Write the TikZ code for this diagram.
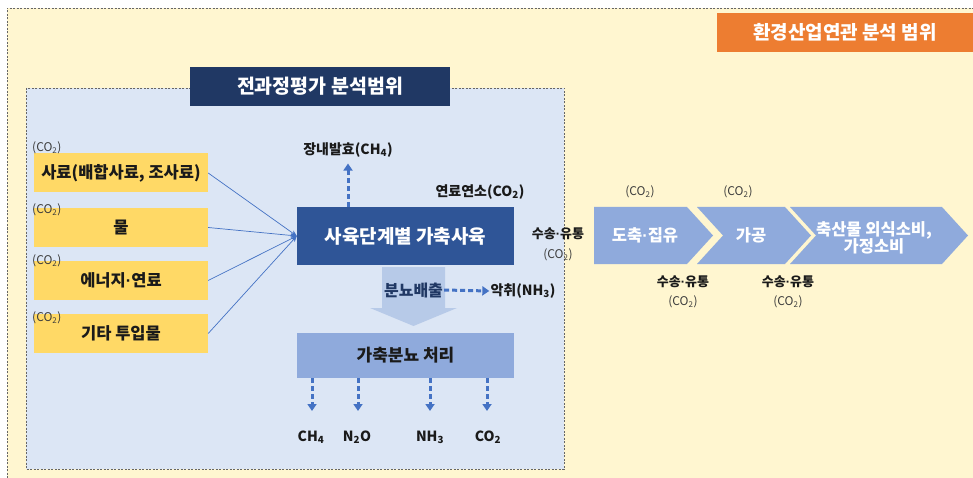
\documentclass[tikz,border=0pt]{standalone}
\usepackage{fontspec}
\setmainfont{Noto Sans CJK KR}
\newfontfamily\latinf{Liberation Sans}
\newcommand{\md}{{\latinf\bfseries ·}}
\usetikzlibrary{arrows.meta}
\definecolor{ybg}{HTML}{FFF6D0}
\definecolor{bbg}{HTML}{DCE6F5}
\definecolor{navy}{HTML}{203864}
\definecolor{mainblue}{HTML}{2F5597}
\definecolor{lightblue}{HTML}{8FAADC}
\definecolor{inyellow}{HTML}{FFD966}
\definecolor{orng}{HTML}{ED7D31}
\definecolor{arrblue}{HTML}{4472C4}
\definecolor{bigarr}{HTML}{B4C7E7}
\definecolor{txt}{HTML}{1A1A1A}
\begin{document}
\begin{tikzpicture}[x=1pt,y=-1pt,
  bdash/.style={draw=gray!80!black, line width=0.6pt, dash pattern=on 2pt off 1.5pt},
  inbox/.style={fill=inyellow, minimum width=174pt, minimum height=39pt, inner sep=0pt, text=txt, font=\fontsize{16.5}{19}\selectfont\bfseries},
  lbl/.style={font=\fontsize{14}{16}\selectfont\bfseries, text=txt, inner sep=1pt},
  tlbl/.style={font=\fontsize{13}{15}\selectfont\bfseries, text=txt, inner sep=1pt},
  co/.style={font=\fontsize{12}{14}\selectfont, text=txt!85, inner sep=1pt},
  inarrow/.style={draw=arrblue, line width=0.7pt, -{Stealth[length=6pt,width=5pt]}},
  dasharr/.style={draw=arrblue, line width=3pt, dash pattern=on 5pt off 3pt, -{Triangle[length=7pt,width=9pt]}},
  chev/.style={fill=lightblue},
  chevtxt/.style={text=white, font=\fontsize{16.5}{19}\selectfont\bfseries, align=center, inner sep=0pt}]
\useasboundingbox (0,0) rectangle (973,478);
\fill[white] (0,0) rectangle (973,478);
\fill[ybg] (7,8) rectangle (973,478);
\draw[bdash] (7,478) -- (7,8) -- (973,8);
\node[fill=orng, text=white, font=\fontsize{19}{22}\selectfont\bfseries, minimum width=256pt, minimum height=39pt, inner sep=0pt] (scope2) at (845,32.5) {환경산업연관 분석 범위};
% inner LCA scope
\draw[bdash, fill=bbg] (26,88) rectangle (564,469);
\node[fill=navy, text=white, font=\fontsize{19.5}{22}\selectfont\bfseries, minimum width=260pt, minimum height=39pt, inner sep=0pt] (title) at (320,86.5) {전과정평가 분석범위};
% inputs
\node[inbox] (in1) at (121,173) {사료(배합사료, 조사료)};
\node[inbox] (in2) at (121,227.5) {물};
\node[inbox] (in3) at (121,280.5) {에너지\md 연료};
\node[inbox] (in4) at (121,333.5) {기타 투입물};
\node[co, anchor=west] (co1) at (31,148) {(CO\textsubscript{2})};
\node[co, anchor=west] (co2) at (31,210) {(CO\textsubscript{2})};
\node[co, anchor=west] (co3) at (31,261) {(CO\textsubscript{2})};
\node[co, anchor=west] (co4) at (31,318) {(CO\textsubscript{2})};
% main
\node[fill=mainblue, text=white, font=\fontsize{19}{22}\selectfont\bfseries, minimum width=217pt, minimum height=58pt, inner sep=0pt] (main) at (405.5,236) {사육단계별 가축사육};
\foreach \i in {1,...,4} \draw[inarrow] (in\i.east) -- (main.west);
\node[lbl] (ent) at (348,150) {장내발효(CH\textsubscript{4})};
\draw[dasharr] (main.north -| ent) -- ([yshift=-5pt]ent.south);
\node[lbl] (fuel) at (480,192) {연료연소(CO\textsubscript{2})};
% big down arrow
\fill[bigarr, opacity=0.9] (382,267) -- (445,267) -- (445,308) -- (457,308) -- (413.5,326) -- (370,308) -- (382,308) -- cycle;
\node[font=\fontsize{16}{19}\selectfont\bfseries, text=navy, inner sep=1pt] (manure) at (413.5,290) {분뇨배출};
\node[lbl] (odor) at (523,291) {악취(NH\textsubscript{3})};
\draw[dasharr] (manure.east) -- (odor.west);
% manure treatment
\node[fill=lightblue, text=txt, font=\fontsize{17}{20}\selectfont\bfseries, minimum width=217pt, minimum height=45pt, inner sep=0pt] (proc) at (405.5,355.5) {가축분뇨 처리};
\node[lbl] (e1) at (311,437) {CH\textsubscript{4}};
\node[lbl] (e2) at (357,437) {N\textsubscript{2}O};
\node[lbl] (e3) at (430,437) {NH\textsubscript{3}};
\node[lbl] (e4) at (488,437) {CO\textsubscript{2}};
\draw[dasharr] (proc.south -| 312,0) -- (312,411);
\draw[dasharr] (proc.south -| 358,0) -- (358,411);
\draw[dasharr] (proc.south -| 430,0) -- (430,411);
\draw[dasharr] (proc.south -| 487,0) -- (487,411);
% chevrons
\fill[chev] (594,207) -- (687,207) -- (713,235.5) -- (687,264) -- (594,264) -- cycle;
\fill[chev] (697,207) -- (785,207) -- (811,235.5) -- (785,264) -- (697,264) -- (723,235.5) -- cycle;
\fill[chev] (790,207) -- (942,207) -- (968,235.5) -- (942,264) -- (790,264) -- (816,235.5) -- cycle;
\node[chevtxt] (c1) at (645,235.5) {도축\md 집유};
\node[chevtxt] (c2) at (751,235.5) {가공};
\node[chevtxt] (c3) at (874,238) {축산물 외식소비,\\[-2pt]가정소비};
\node[tlbl] (t0) at (558,234) {수송\md 유통};
\node[co] (t0c) at (558,255) {(CO\textsubscript{2})};
\node[co] (a1) at (640,192) {(CO\textsubscript{2})};
\node[co] (a2) at (738,192) {(CO\textsubscript{2})};
\node[tlbl] (t1) at (683,282) {수송\md 유통};
\node[co] (t1c) at (683,302) {(CO\textsubscript{2})};
\node[tlbl] (t2) at (788,282) {수송\md 유통};
\node[co] (t2c) at (788,302) {(CO\textsubscript{2})};
\end{tikzpicture}
\end{document}
